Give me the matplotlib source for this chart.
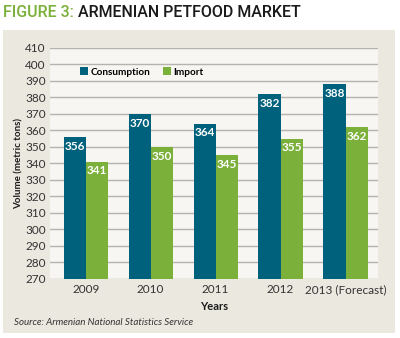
import matplotlib
matplotlib.use("Agg")
import matplotlib.pyplot as plt
from matplotlib.patches import Rectangle
import numpy as np

years = ["2009", "2010", "2011", "2012", "2013 (Forecast)"]
consumption = [356, 370, 364, 382, 388]
imports = [341, 350, 345, 355, 362]
y_ticks = list(range(270, 411, 10))

teal = "#00617c"
green = "#7bb03b"
panel = "#ebe8e0"
plot_bg = "#f7f6f3"

plt.rcParams["font.family"] = ["Lato", "DejaVu Sans"]

fig = plt.figure(figsize=(4.0, 3.38), dpi=100)
fig.patch.set_facecolor("white")

# beige backdrop panel
fig.add_artist(Rectangle((0.008, 0.015), 0.98, 0.895, transform=fig.transFigure,
                         facecolor=panel, edgecolor="none", zorder=0))

title_font = ["Roboto", "DejaVu Sans"]
t1 = fig.text(0.008, 0.962, "FIGURE 3:", color=green, fontsize=11.5, fontweight="medium",
              va="center", ha="left", family=title_font)
fig.canvas.draw()
bb = t1.get_window_extent().transformed(fig.transFigure.inverted())
fig.text(bb.x1 + 0.01, 0.962, "ARMENIAN PETFOOD MARKET", color="#1a1a1a", fontsize=11.5,
         fontweight="medium", va="center", ha="left", family=title_font)

ax = fig.add_axes([0.125, 0.175, 0.82, 0.683])
ax.set_facecolor(plot_bg)

x = np.arange(len(years))
w = 0.34
ax.bar(x - w / 2, [c - 270 for c in consumption], w, bottom=270, color=teal,
       zorder=3, label="Consumption")
ax.bar(x + w / 2, [i - 270 for i in imports], w, bottom=270, color=green,
       zorder=3, label="Import")

for xi, v in zip(x - w / 2, consumption):
    ax.text(xi, v - 2.2, str(v), color="white", fontsize=8.5, fontweight="bold",
            ha="center", va="top", zorder=4)
for xi, v in zip(x + w / 2, imports):
    ax.text(xi, v - 2.2, str(v), color="white", fontsize=8.5, fontweight="bold",
            ha="center", va="top", zorder=4)

ax.set_ylim(270, 410)
ax.set_xlim(-0.55, 4.5)
ax.set_yticks(y_ticks)
ax.set_yticklabels([str(t) for t in y_ticks], fontsize=8.5, color="#333333")
ax.set_xticks(x)
ax.set_xticklabels(years, fontsize=8.5, color="#333333")
ax.tick_params(axis="y", length=0, pad=3)
ax.tick_params(axis="x", length=0, pad=4)
ax.grid(axis="y", color="#b5b3ae", linewidth=1.0, zorder=1)
for s in ax.spines.values():
    s.set_visible(False)

ax.set_ylabel("Volume (metric tons)", fontsize=7, fontweight="bold", color="#1a1a1a", labelpad=1)
ax.set_xlabel("Years", fontsize=8, fontweight="bold", color="#1a1a1a", labelpad=4)

ax.legend(loc="upper left", bbox_to_anchor=(0.065, 0.955), ncol=2, frameon=False,
          handlelength=0.8, handleheight=0.8, handletextpad=0.25,
          columnspacing=1.2, prop={"weight": "bold", "size": 7.2})

fig.text(0.035, 0.045, "Source: Armenian National Statistics Service", fontsize=7,
         style="italic", color="#333333", va="center", ha="left")

fig.savefig("out.png", dpi=100, facecolor=fig.get_facecolor())
